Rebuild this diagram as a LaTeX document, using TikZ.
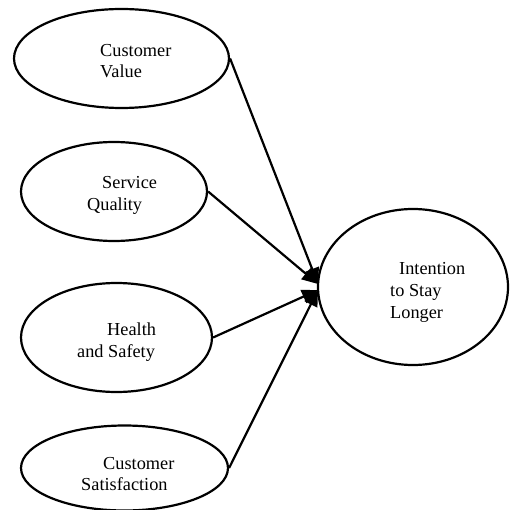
\documentclass[tikz,border=0pt]{standalone}
\usepackage{fontspec}
\setmainfont{Liberation Serif}
\usetikzlibrary{shapes.geometric,arrows.meta}
\begin{document}
\begin{tikzpicture}[x=1pt,y=-1pt,
  oval/.style={draw,ellipse,line width=2.2pt,inner sep=0pt},
  txt/.style={anchor=base west,inner sep=0pt,font=\fontsize{18.3}{22}\selectfont},
  link/.style={line width=2.2pt,-{Triangle[length=16pt,width=14pt]}}]
\useasboundingbox (0,0) rectangle (509,510);
\node [oval,minimum width=215pt,minimum height=99pt] (cv) at (121.5,58.5) {};
\node [oval,minimum width=186pt,minimum height=99pt] (sq) at (114,191.5) {};
\node [oval,minimum width=191pt,minimum height=109pt] (hs) at (116.5,337.5) {};
\node [oval,minimum width=207pt,minimum height=85pt] (cs) at (124.5,468) {};
\node [oval,minimum width=190pt,minimum height=156pt] (il) at (413,287) {};
\node [txt] (cva) at (100,57) {Customer};
\node [txt] (cvb) at (100,78) {Value};
\node [txt] (sqa) at (102,189) {Service};
\node [txt] (sqb) at (87,211) {Quality};
\node [txt] (hsa) at (107,335) {Health};
\node [txt] (hsb) at (77,357) {and Safety};
\node [txt] (csa) at (103,469) {Customer};
\node [txt] (csb) at (81,490) {Satisfaction};
\node [txt] (ila) at (399,274) {Intention};
\node [txt] (ilb) at (390,296) {to Stay};
\node [txt] (ilc) at (390,318) {Longer};
\coordinate (ta) at (318,284);
\coordinate (tb) at (318,290);
\draw [link] (cv.east) -- (ta);
\draw [link] (sq.east) -- (ta);
\draw [link] (hs.east) -- (tb);
\draw [link] (cs.east) -- (tb);
\end{tikzpicture}
\end{document}
